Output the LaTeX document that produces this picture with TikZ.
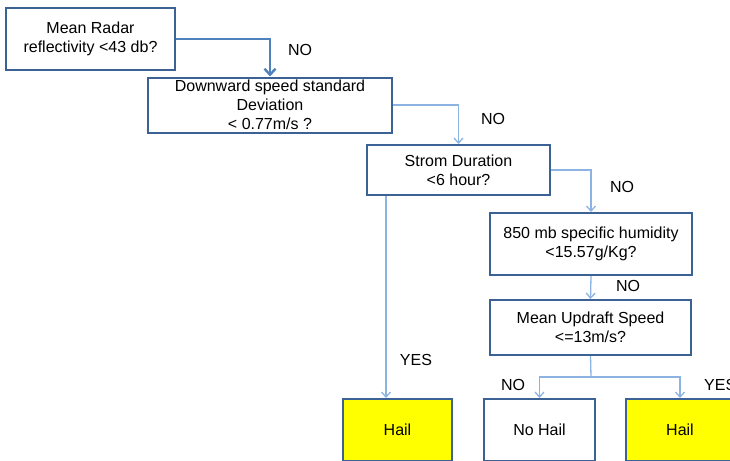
\documentclass[tikz,border=0pt]{standalone}
\usepackage{fontspec}
\setmainfont{Liberation Sans}
\usetikzlibrary{arrows.meta}
\definecolor{boxline}{HTML}{3B6195}
\definecolor{connlight}{HTML}{8DB3E2}
\definecolor{conndark}{HTML}{4F81BD}
\definecolor{hailfill}{HTML}{FFFF00}
\begin{document}
\begin{tikzpicture}[x=1pt,y=-1pt,
  every node/.style={font=\fontsize{16}{19}\selectfont, text=black},
  qbox/.style={draw=boxline, line width=2pt, fill=white, align=center, inner sep=2pt},
  hailbox/.style={qbox, fill=hailfill},
  conn/.style={draw=connlight, line width=1.3pt, -{Straight Barb[length=5pt,width=9pt]}},
  connplain/.style={draw=connlight, line width=1.3pt},
  connthick/.style={draw=conndark, line width=2.4pt, -{Straight Barb[length=6pt,width=11pt]}},
  lbl/.style={inner sep=0pt}]
\useasboundingbox (0,0) rectangle (730,460);
\clip (0,0) rectangle (730,460);
\fill[white] (0,0) rectangle (730,460);
% boxes
\node[qbox, minimum width=169pt, minimum height=62pt] (b1) at (90.5,39) {Mean Radar\\reflectivity <43 db?};
\node[qbox, minimum width=244pt, minimum height=55pt] (b2) at (270,105) {Downward speed standard\\Deviation\\< 0.77m/s ?};
\node[qbox, minimum width=183pt, minimum height=50pt] (b3) at (458.5,170) {Strom Duration\\<6 hour?};
\node[qbox, minimum width=202pt, minimum height=62pt] (b4) at (591,244) {850 mb specific humidity\\<15.57g/Kg?};
\node[qbox, minimum width=201pt, minimum height=55pt] (b5) at (590.5,327.5) {Mean Updraft Speed\\<=13m/s?};
\node[hailbox, minimum width=109pt, minimum height=62pt] (h1) at (397.5,430) {Hail};
\node[qbox, minimum width=111pt, minimum height=62pt] (nh) at (539.5,430) {No Hail};
\node[hailbox, minimum width=108pt, minimum height=62pt] (h2) at (680,430) {Hail};
% connectors
\draw[connthick] (b1.east) -| (b2.north);
\draw[conn] (b2.east) -| (b3.north);
\draw[conn] (b3.east) -| (b4.north);
\draw[conn] (b4.south) -- (b5.north);
\coordinate (j) at (591,377);
\draw[connplain] (b5.south) -- (j);
\draw[conn] (j) -| (nh.north);
\draw[conn] (j) -| (h2.north);
\coordinate (s3) at ([xshift=20pt]b3.south west);
\draw[conn] (s3) -- (s3 |- h1.north);
% labels
\node[lbl] (n1) at (300,50) {NO};
\node[lbl] (n2) at (493,119) {NO};
\node[lbl] (n3) at (622,187) {NO};
\node[lbl] (n4) at (628,286) {NO};
\node[lbl] (n5) at (513,385) {NO};
\node[lbl] (y1) at (416,360) {YES};
\node[lbl, anchor=west] (y2) at (704,385) {YES};
\end{tikzpicture}
\end{document}
